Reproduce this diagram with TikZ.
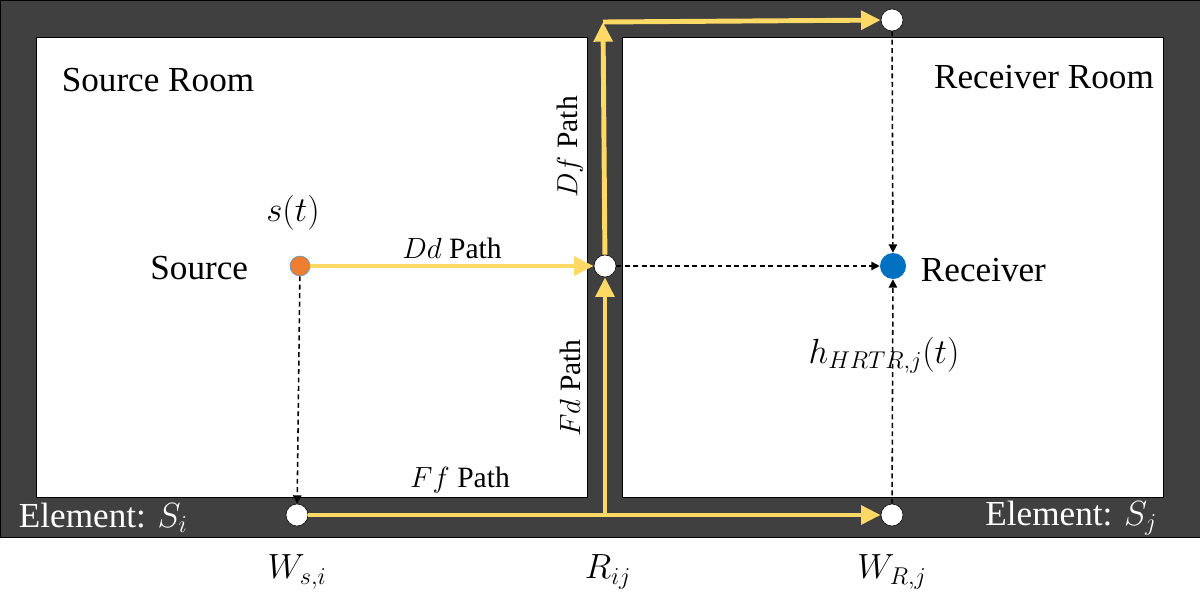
\documentclass[tikz,border=0pt]{standalone}
\usepackage{fontspec}
\setmainfont{Liberation Serif}
\usetikzlibrary{arrows.meta}
\definecolor{wallgray}{HTML}{404040}
\definecolor{pathyellow}{HTML}{FFD966}
\definecolor{srcorange}{HTML}{ED7D31}
\definecolor{rcvblue}{HTML}{0070C0}
\begin{document}
\begin{tikzpicture}[x=0.025cm,y=-0.025cm]
	\tikzstyle{port}=[circle,draw=black,fill=white,inner sep=0pt,minimum size=22*0.025cm]
	\tikzstyle{yedge}=[draw=pathyellow,line width=3.5pt,-{Triangle[length=14pt,width=13pt]}]
	\tikzstyle{dedge}=[draw=black,line width=1.1pt,dash pattern=on 3.5pt off 2.5pt,-{Triangle[length=6pt,width=6pt]}]
	\tikzstyle{big}=[font=\fontsize{25}{30}\selectfont]
	\tikzstyle{mid}=[font=\fontsize{21}{25}\selectfont]
	\useasboundingbox (0,0) rectangle (1200,597);
	\begin{scope}
		% walls and rooms
		\filldraw[fill=wallgray,draw=black] (0,0) rectangle (1200,537);
		\filldraw[fill=white,draw=black] (36,37) rectangle (587,497);
		\filldraw[fill=white,draw=black] (622,37) rectangle (1163,497);

		\node [big] (srcroom) at (158,80) {Source Room};
		\node [big] (rcvroom) at (1044,77) {Receiver Room};
		\node [big,text=white,anchor=west] (elemi) at (14,518) {Element: $S_i$};
		\node [big,text=white,anchor=east] (elemj) at (1162,518) {Element: $S_j$};

		\node [circle,draw=rcvblue!70,fill=srcorange,inner sep=0pt,minimum size=20*0.025cm] (src) at (300,266) {};
		\node [circle,fill=rcvblue,inner sep=0pt,minimum size=26*0.025cm] (rcv) at (893,266) {};
		\node [port] (mid) at (605,266) {};
		\node [port] (topW) at (892,20) {};
		\node [port] (Ws) at (297,515) {};
		\node [port] (WR) at (892,515) {};
		\coordinate (Rij) at (605,515);
		\coordinate (corner) at (603,22);

		\node [big,anchor=east] (srclbl) at (253,268) {Source};
		\node [big,anchor=west] (rcvlbl) at (916,270) {Receiver};
		\node [big] (st) at (293,213) {$s(t)$};
		\node [big] (hlbl) at (884,355) {$h_{HRTR,j}(t)$};
		\node [big] (Wslbl) at (297,572) {$W_{s,i}$};
		\node [big] (Rlbl) at (608,572) {$R_{ij}$};
		\node [big] (WRlbl) at (892,572) {$W_{R,j}$};

		\path[yedge] (src) to node[mid,above,text=black] {$Dd$ Path} (mid);
		\path[yedge] (Rij) to (mid);
		\path[yedge] (mid) to (corner);
		\path[yedge] (corner) to (topW);
		\path[yedge] (Ws) to (WR);

		\node [mid] (fflbl) at (460,480) {$Ff$ Path};
		\node [mid,rotate=90] (dflbl) at (570,147) {$Df$ Path};
		\node [mid,rotate=90] (fdlbl) at (570,388) {$Fd$ Path};

		\path[dedge] (src) to (Ws);
		\path[dedge] (mid) to (rcv);
		\path[dedge] (topW) to (rcv);
		\path[dedge] (WR) to (rcv);
	\end{scope}
\end{tikzpicture}
\end{document}
